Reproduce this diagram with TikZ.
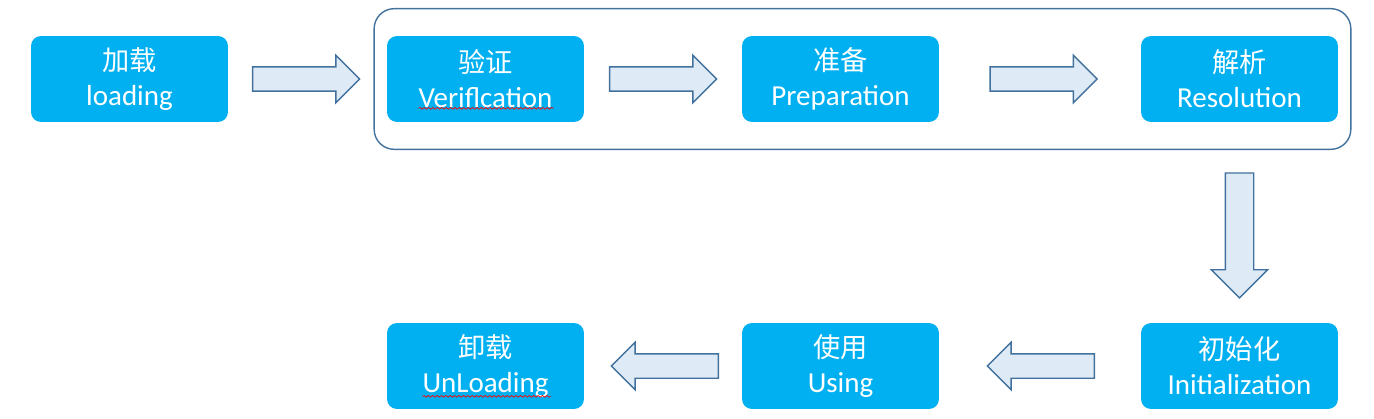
\documentclass[tikz,border=0pt]{standalone}
\usepackage{fontspec}
\setmainfont{Carlito}
\newfontfamily\cjk{Noto Sans CJK SC}
\usetikzlibrary{positioning,fit,calc,shapes.arrows,decorations.pathmorphing}
\definecolor{stageblue}{HTML}{00B0F0}
\definecolor{arrowfill}{HTML}{DEEBF7}
\definecolor{arrowline}{HTML}{41719C}

\begin{document}
\begin{tikzpicture}[x=0.02cm,y=-0.02cm,
    stage/.style={fill=stageblue, rounded corners=0.2cm, minimum width=3.94cm,
      minimum height=1.72cm, inner sep=0pt, text=white, align=center,
      font=\fontsize{16.5}{20}\selectfont},
    bigarrow/.style={single arrow, draw=arrowline, fill=arrowfill, line width=0.8pt,
      inner xsep=0pt, inner ysep=0.23cm, single arrow head extend=0.23cm,
      minimum height=2.14cm},
    squiggle/.style={red, line width=0.4pt, decorate,
      decoration={snake, amplitude=0.5pt, segment length=2.5pt}}]
    \useasboundingbox (0,0) rectangle (1374,419);

    % Top row
    \node[stage] (load) at (129.5,79) {{\cjk\fontsize{15.5}{20}\selectfont 加载}\\loading};
    \node[stage] (verify) at (485.5,79) {{\cjk\fontsize{15.5}{20}\selectfont 验证}\\Veriflcation};
    \node[stage] (prepare) at (840.5,79) {{\cjk\fontsize{15.5}{20}\selectfont 准备}\\Preparation};
    \node[stage] (resolve) at (1239.5,79) {{\cjk\fontsize{15.5}{20}\selectfont 解析}\\Resolution};

    % Linking frame
    \node[draw=arrowline, line width=0.8pt, rounded corners=0.4cm, inner xsep=0.25cm,
      inner ysep=0.54cm, fit=(verify) (resolve)] (link) {};

    % Bottom row
    \node[stage] (init) at (1239.5,366) {{\cjk\fontsize{15.5}{20}\selectfont 初始化}\\Initialization};
    \node[stage] (use) at (840.5,366) {{\cjk\fontsize{15.5}{20}\selectfont 使用}\\Using};
    \node[stage] (unload) at (485.5,366) {{\cjk\fontsize{15.5}{20}\selectfont 卸载}\\UnLoading};

    % Arrows
    \node[bigarrow, xshift=-0.15cm] (a1) at ($(load.east)!0.5!(verify.west)$) {};
    \node[bigarrow, xshift=-0.12cm] (a2) at ($(verify.east)!0.5!(prepare.west)$) {};
    \node[bigarrow, xshift=-0.05cm] (a3) at ($(prepare.east)!0.5!(resolve.west)$) {};
    \node[bigarrow, shape border rotate=270, inner xsep=0.27cm, inner ysep=0pt,
      single arrow head extend=0.28cm, minimum height=2.5cm, yshift=0.16cm]
      (a4) at ($(link.south -| resolve)!0.5!(init.north)$) {};
    \node[bigarrow, shape border rotate=180, xshift=0.14cm] (a5) at ($(init.west)!0.5!(use.east)$) {};
    \node[bigarrow, shape border rotate=180, xshift=0.16cm] (a6) at ($(use.west)!0.5!(unload.east)$) {};

    % Spell-check marks
    \draw[squiggle] ($(verify.south)+(-67,-14)$) -- ++(135,0);
    \draw[squiggle] ($(unload.south)+(-63,-13)$) -- ++(128,0);
\end{tikzpicture}
\end{document}
